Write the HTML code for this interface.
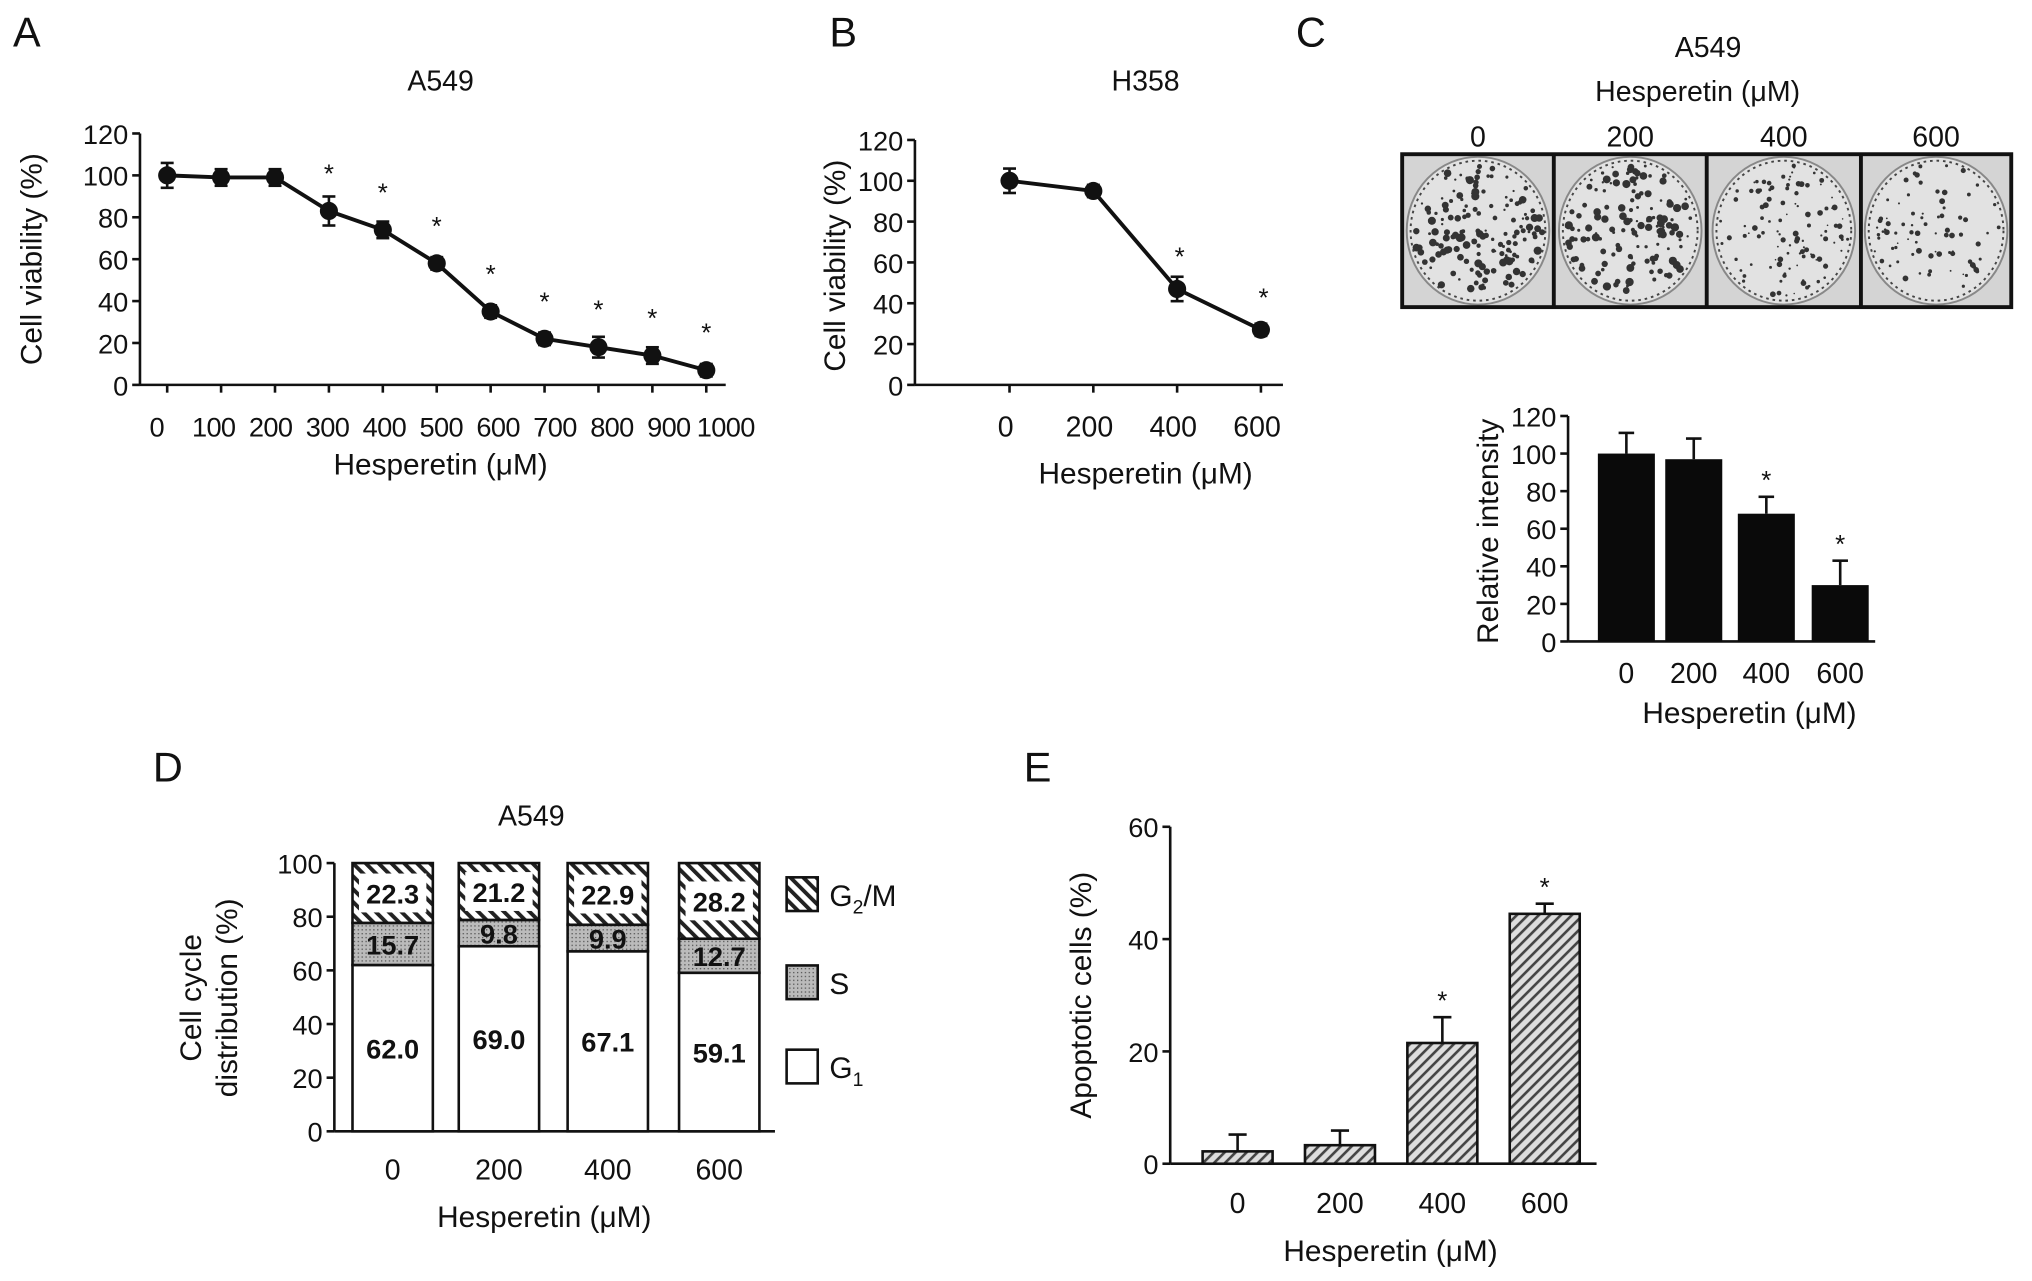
<!DOCTYPE html>
<html><head><meta charset="utf-8"><style>
html,body{margin:0;padding:0;background:#fff}
svg{display:block}
text{font-family:"Liberation Sans",Arial,sans-serif;fill:#111}
</style></head><body>
<svg id="fig" width="2032" height="1281" viewBox="0 0 1568 988.5" xmlns="http://www.w3.org/2000/svg">
<defs>
<pattern id="hatch" patternUnits="userSpaceOnUse" width="7" height="7" patternTransform="rotate(-45)">
<rect width="7" height="7" fill="#fff"/><rect width="3" height="7" fill="#222"/></pattern>
<pattern id="hatchE" patternUnits="userSpaceOnUse" width="6" height="6" patternTransform="rotate(45)">
<rect width="6" height="6" fill="#ddd"/><rect width="2" height="6" fill="#444"/></pattern>
<pattern id="dots" patternUnits="userSpaceOnUse" width="3" height="3">
<rect width="3" height="3" fill="#bbb"/><rect width="1" height="1" fill="#555"/></pattern>
</defs>
<g id="root"></g>
</svg>
<script>
// Panel A data
const aDoses=[0,100,200,300,400,500,600,700,800,900,1000];
const aVals=[100,99,99,83,74,58,35,22,18,14,7];
const aErr=[6,4,4,7,4,3,3,3,5,4,3];
const aStar=[0,0,0,1,1,1,1,1,1,1,1];
const aYTicks=[0,20,40,60,80,100,120];
// Panel B
const bDoses=[0,200,400,600];
const bVals=[100,95,47,27];
const bErr=[6,3,6,3];
const bStar=[0,0,1,1];
const bXTicks=[0,200,400,600];
// Panel C
const cCats=["0","200","400","600"];
const cVals=[100,97,68,30];
const cErr=[11,11,9,13];
const cStar=[0,0,1,1];
const cDensity=[160,140,110,80];
// Panel D
const dCats=["0","200","400","600"];
const dG1=[62.0,69.0,67.1,59.1];
const dS=[15.7,9.8,9.9,12.7];
const dG2M=[22.3,21.2,22.9,28.2];
const dYTicks=[0,20,40,60,80,100];
// Panel E
const eCats=["0","200","400","600"];
const eVals=[2.2,3.3,21.5,44.5];
const eErr=[3,2.6,4.6,1.8];
const eStar=[0,0,1,1];
const eYTicks=[0,20,40,60];

const NS="http://www.w3.org/2000/svg";
const root=document.getElementById('root');
function el(tag,attrs,parent,txt){const e=document.createElementNS(NS,tag);for(const k in attrs)e.setAttribute(k,attrs[k]);if(txt!==undefined)e.textContent=txt;(parent||root).appendChild(e);return e;}
function txt(x,y,s,size,name,anchor,extra){const t=el('text',Object.assign({x:x,y:y,'font-size':size,'text-anchor':anchor||'middle'},extra||{}),null,s);

return t;}
function line(x1,y1,x2,y2,name,w){const l=el('line',{x1:x1,y1:y1,x2:x2,y2:y2,stroke:'#111','stroke-width':w||2});

return l;}
function yAxis(x,y0,yTop,vmax,ticks,name,xEnd){const sy=v=>y0-(y0-yTop)*v/vmax;
line(x,sy(0),x,sy(vmax),name+'-y-axis');
ticks.forEach(v=>{line(x-6,sy(v),x,sy(v),name+'-y-tick');txt(x-9,sy(v)+8,String(v),21,name+'-y-tick-label','end');});
line(x,y0,xEnd,y0,name+'-x-axis');return sy;}

// Panel letters
[['A',10,36],['B',640,36],['C',1000,36],['D',118,603],['E',790,603]].forEach(p=>txt(p[1],p[2],p[0],32,'panel-label-'+p[0].toLowerCase(),'start'));

// ---------- Panel A ----------
{const sy=yAxis(108,297,103,120,aYTicks,'a',560);
const sx=d=>129+(545-129)*d/1000;
const lx=d=>121+(560-121)*d/1000;
aDoses.forEach(d=>{line(sx(d),297,sx(d),303,'a-x-tick');});
aDoses.forEach(d=>txt(lx(d),337,String(d),21,'a-x-tick-label','middle',{'letter-spacing':'-0.5'}));
txt(340,70,'A549',22,'a-title');txt(340,366,'Hesperetin (μM)',23,'a-x-axis-title');
txt(0,0,'Cell viability (%)',23,'a-y-axis-title','middle',{transform:'translate(32,200) rotate(-90)'});
const pts=aDoses.map((d,i)=>sx(d)+','+sy(aVals[i])).join(' ');
const pl=el('polyline',{points:pts,fill:'none',stroke:'#111','stroke-width':3});


aDoses.forEach((d,i)=>{const x=sx(d),y=sy(aVals[i]);
line(x,y-aErr[i]*1.6,x,y+aErr[i]*1.6,'a-error-bar');
line(x-5,y-aErr[i]*1.6,x+5,y-aErr[i]*1.6,'a-error-cap');line(x-5,y+aErr[i]*1.6,x+5,y+aErr[i]*1.6,'a-error-cap');
const c=el('circle',{cx:x,cy:y,r:7,fill:'#111'});


if(aStar[i])txt(x,y-22,'*',20,'a-significance-star');});}

// ---------- Panel B ----------
{const sy=yAxis(706,297,108,120,aYTicks,'b',990);
const sx=d=>779+(973-779)*d/600;
bXTicks.forEach(d=>{line(sx(d),297,sx(d),303,'b-x-tick');txt(sx(d)-3,337,String(d),22,'b-x-tick-label');});
txt(884,70,'H358',22,'b-title');txt(884,373,'Hesperetin (μM)',23,'b-x-axis-title');
txt(0,0,'Cell viability (%)',23,'b-y-axis-title','middle',{transform:'translate(652,205) rotate(-90)'});
const pts=bDoses.map((d,i)=>sx(d)+','+sy(bVals[i])).join(' ');
const pl=el('polyline',{points:pts,fill:'none',stroke:'#111','stroke-width':3});


bDoses.forEach((d,i)=>{const x=sx(d),y=sy(bVals[i]);
line(x,y-bErr[i]*1.57,x,y+bErr[i]*1.57,'b-error-bar');
line(x-5,y-bErr[i]*1.57,x+5,y-bErr[i]*1.57,'b-error-cap');line(x-5,y+bErr[i]*1.57,x+5,y+bErr[i]*1.57,'b-error-cap');
const c=el('circle',{cx:x,cy:y,r:7,fill:'#111'});


if(bStar[i])txt(x+2,y-18,'*',20,'b-significance-star');});}

// ---------- Panel C ----------
{txt(1318,44,'A549',22,'c-title');txt(1310,78,'Hesperetin (μM)',22,'c-dose-title');
const px=[1082,1199,1317,1436,1552];
let seed=7;const rnd=()=>{seed=(seed*9301+49297)%233280;return seed/233280;};
cCats.forEach((c,i)=>{txt((px[i]+px[i+1])/2,113,c,22,'c-plate-label');
const g=el('g',{});

el('rect',{x:px[i],y:119,width:px[i+1]-px[i],height:118,fill:'#d4d4d4'},g);
const cx=(px[i]+px[i+1])/2,cy=178;
el('ellipse',{cx:cx,cy:cy,rx:55,ry:57,fill:'#e2e2e2',stroke:'#888','stroke-width':1.5},g);
el('ellipse',{cx:cx,cy:cy,rx:52,ry:54,fill:'none',stroke:'#444','stroke-width':1.5,'stroke-dasharray':'2 3'},g);
for(let k=0;k<cDensity[i];k++){const a=rnd()*Math.PI*2,r=Math.sqrt(rnd())*50;
el('circle',{cx:cx+Math.cos(a)*r,cy:cy+Math.sin(a)*r*1.03,r:(0.7+rnd()*2.0)*(i<2?1.2:0.85),fill:'#333'},g);}});
const fr=el('rect',{x:1082,y:119,width:470,height:118,fill:'none',stroke:'#111','stroke-width':3});


[1199,1317,1436].forEach(x=>line(x,119,x,237,'c-plate-divider',3));
const sy=yAxis(1210,495,321,120,aYTicks,'c',1447);
const cx0=[1255,1307,1363,1420];
cCats.forEach((c,i)=>{const x=cx0[i],y=sy(cVals[i]);
line(x,sy(cVals[i]+cErr[i]),x,y,'c-error-bar');line(x-6,sy(cVals[i]+cErr[i]),x+6,sy(cVals[i]+cErr[i]),'c-error-cap');
const b=el('rect',{x:x-22,y:y,width:44,height:495-y,fill:'#0a0a0a'});


if(cStar[i])txt(x,sy(cVals[i]+cErr[i])-6,'*',20,'c-significance-star');
txt(x,527,c,22,'c-x-tick-label');});
txt(1350,558,'Hesperetin (μM)',23,'c-x-axis-title');
txt(0,0,'Relative intensity',23,'c-y-axis-title','middle',{transform:'translate(1156,410) rotate(-90)'});}

// ---------- Panel D ----------
{const sy=yAxis(258,873,666,100,dYTicks,'d',598);
const cx0=[303,385,469,555];
txt(410,637,'A549',22,'d-title');txt(420,947,'Hesperetin (μM)',23,'d-x-axis-title');
txt(0,0,'Cell cycle',23,'d-y-axis-title-1','middle',{transform:'translate(155,770) rotate(-90)'});
txt(0,0,'distribution (%)',23,'d-y-axis-title-2','middle',{transform:'translate(183,770) rotate(-90)'});
dCats.forEach((c,i)=>{const x=cx0[i]-31,w=62;
const g1=dG1[i],s=dS[i],g2=dG2M[i];
const seg=(v0,v1,fill,name)=>{const r=el('rect',{x:x,y:sy(v1),width:w,height:sy(v0)-sy(v1),fill:fill,stroke:'#111','stroke-width':2});

};
seg(0,g1,'#fff','d-bar-g1-'+c);seg(g1,g1+s,'url(#dots)','d-bar-s-'+c);seg(g1+s,100,'url(#hatch)','d-bar-g2m-'+c);
const yl=sy(g1+s+g2/2);
const bx=el('rect',{x:x+5,y:yl-15,width:w-10,height:30,fill:'#fff'});


txt(cx0[i],yl+8,g2.toFixed(1),21,'d-value-g2m','middle',{'font-weight':'bold'});
txt(cx0[i],sy(g1+s/2)+8,s.toFixed(1),21,'d-value-s','middle',{'font-weight':'bold'});
txt(cx0[i],sy(g1/2)+8,g1.toFixed(1),21,'d-value-g1','middle',{'font-weight':'bold'});
txt(cx0[i],910,c,22,'d-x-tick-label');});
[['url(#hatch)',677,'G','2','/M'],['url(#dots)',745,'S','',''],['#fff',810,'G','1','']].forEach(L=>{
const r=el('rect',{x:607,y:L[1],width:24,height:26,fill:L[0],stroke:'#111','stroke-width':2});


const t=txt(640,L[1]+22,'',23,'d-legend-label','start');
el('tspan',{},t,L[2]);if(L[3])el('tspan',{'font-size':15,dy:6},t,L[3]);if(L[4])el('tspan',{dy:-6},t,L[4]);});}

// ---------- Panel E ----------
{const sy=yAxis(903,898,638,60,eYTicks,'e',1232);
const cx0=[955,1034,1113,1192];
eCats.forEach((c,i)=>{const x=cx0[i],y=sy(eVals[i]);
line(x,sy(eVals[i]+eErr[i]),x,y,'e-error-bar');line(x-7,sy(eVals[i]+eErr[i]),x+7,sy(eVals[i]+eErr[i]),'e-error-cap');
const b=el('rect',{x:x-27,y:y,width:54,height:898-y,fill:'url(#hatchE)',stroke:'#111','stroke-width':2});


if(eStar[i])txt(x,sy(eVals[i]+eErr[i])-6,'*',20,'e-significance-star');
txt(x,936,c,22,'e-x-tick-label');});
txt(1073,973,'Hesperetin (μM)',23,'e-x-axis-title');
txt(0,0,'Apoptotic cells (%)',23,'e-y-axis-title','middle',{transform:'translate(842,768) rotate(-90)'});}
</script>
</body></html>
